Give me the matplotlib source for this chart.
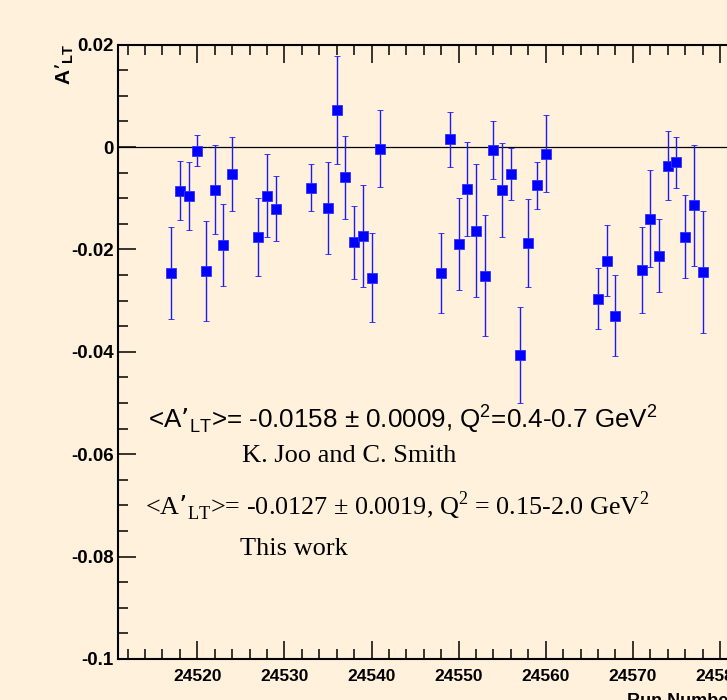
import matplotlib
matplotlib.use("Agg")

import matplotlib.pyplot as plt
from matplotlib.ticker import MultipleLocator, FuncFormatter

# run numbers and measured A'_LT with errors
runs = [24517, 24518, 24519, 24520, 24521, 24522, 24523, 24524,
        24527, 24528, 24529,
        24533, 24535, 24536, 24537, 24538, 24539, 24540, 24541,
        24548, 24549, 24550, 24551, 24552, 24553, 24554, 24555, 24556,
        24557, 24558, 24559, 24560,
        24566, 24567, 24568,
        24571, 24572, 24573, 24574, 24575, 24576, 24577, 24578]
alt = [-0.0246, -0.0085, -0.0096, -0.0007, -0.0242, -0.0083, -0.0191, -0.0053,
       -0.0176, -0.0095, -0.0120,
       -0.0079, -0.0119, 0.0072, -0.0059, -0.0186, -0.0174, -0.0255, -0.0003,
       -0.0246, 0.0015, -0.0190, -0.0082, -0.0163, -0.0251, -0.0006, -0.0084, -0.0053,
       -0.0406, -0.0188, -0.0075, -0.0013,
       -0.0296, -0.0222, -0.0329,
       -0.0240, -0.0140, -0.0212, -0.0036, -0.0030, -0.0175, -0.0114, -0.0244]
alt_err = [0.0090, 0.0057, 0.0066, 0.0030, 0.0097, 0.0087, 0.0080, 0.0072,
           0.0076, 0.0081, 0.0064,
           0.0046, 0.0090, 0.0106, 0.0081, 0.0071, 0.0099, 0.0087, 0.0075,
           0.0079, 0.0053, 0.0090, 0.0092, 0.0129, 0.0118, 0.0057, 0.0091, 0.0051,
           0.0093, 0.0086, 0.0046, 0.0075,
           0.0060, 0.0069, 0.0080,
           0.0084, 0.0095, 0.0072, 0.0068, 0.0050, 0.0081, 0.0119, 0.0120]

BG = "#fff1dc"
plt.rcParams["font.family"] = ["Liberation Sans", "DejaVu Sans"]
plt.rcParams["font.weight"] = "bold"

fig = plt.figure(figsize=(7.27, 7.0), dpi=100, facecolor=BG)
# frame runs past the right edge of the picture, like the cropped original
ax = fig.add_axes([118 / 727, 41 / 700, (770 - 118) / 727, (659 - 44.7) / 700])
ax.set_facecolor(BG)

ax.axhline(0, color="black", lw=0.9, zorder=1)
ax.errorbar(runs, alt, yerr=alt_err, fmt="s", color="#0000ff", ecolor="#1a1aff",
            elinewidth=1.0, capsize=2.2, capthick=1.0, markersize=7,
            markeredgecolor="#3030ff", markeredgewidth=0.6, zorder=3)

ax.set_xlim(24510.9, 24585.74)
ax.set_ylim(-0.1, 0.02)

for s in ax.spines.values():
    s.set_linewidth(1.5)

# x axis: ticks on bottom and top, labels only at the bottom
ax.xaxis.set_major_locator(MultipleLocator(10))
ax.xaxis.set_minor_locator(MultipleLocator(2))
ax.xaxis.set_major_formatter(FuncFormatter(lambda v, p: f"{int(round(v))}"))
ax.tick_params(axis="x", which="both", bottom=True, top=True, labeltop=False,
               direction="in", labelsize=12.5, pad=7)
ax.tick_params(axis="x", which="major", length=13.3, width=1.1)
ax.tick_params(axis="x", which="minor", length=7.5, width=1.1)

# y axis
ax.yaxis.set_major_locator(MultipleLocator(0.02))
ax.yaxis.set_minor_locator(MultipleLocator(0.005))
ax.yaxis.set_major_formatter(FuncFormatter(lambda v, p: f"{round(v, 4) + 0.0:g}"))
ax.tick_params(axis="y", which="both", direction="in", right=True, labelsize=13.5, pad=3)
ax.tick_params(axis="y", which="major", length=13.3, width=1.1)
ax.tick_params(axis="y", which="minor", length=7.2, width=1.1)

# axis titles (ROOT style)
fig.text(65 / 727, 1 - 43 / 700, "A’$_{\\mathregular{LT}}$", rotation=90,
         ha="center", va="top", fontsize=15, fontweight="bold")
fig.text(627 / 727, 1 - 693 / 700, "Run Number", ha="left", va="top",
         fontsize=13, fontweight="bold")

# annotations
fig.text(148 / 727, 1 - 428 / 700,
         "<A’$_{\\mathregular{LT}}$>= -0.0158 ± 0.0009, Q$^{\\mathregular{2}}$=0.4-0.7 GeV$^{\\mathregular{2}}$",
         ha="left", va="baseline", fontsize=18.7, fontweight="normal",
         family="Liberation Sans")
fig.text(242 / 727, 1 - 462 / 700, "K. Joo and C. Smith",
         ha="left", va="baseline", fontsize=19, fontweight="normal",
         family="Liberation Serif")
fig.text(145 / 727, 1 - 515 / 700,
         "<A’$_{\\mathregular{LT}}$>= -0.0127 ± 0.0019, Q$^{\\mathregular{2}}$ = 0.15-2.0 GeV$^{\\mathregular{2}}$",
         ha="left", va="baseline", fontsize=18.8, fontweight="normal",
         family="Liberation Serif")
fig.text(240 / 727, 1 - 555 / 700, "This work",
         ha="left", va="baseline", fontsize=19, fontweight="normal",
         family="Liberation Serif")

fig.savefig("out.png", dpi=100, facecolor=BG)
plt.close(fig)
